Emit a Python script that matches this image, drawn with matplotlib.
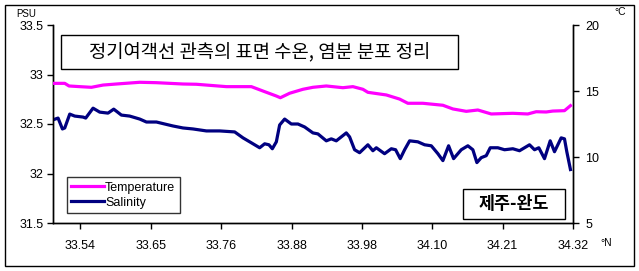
import matplotlib
matplotlib.use("Agg")
import matplotlib.pyplot as plt
from matplotlib.patches import Rectangle

plt.rcParams['font.family'] = ['Liberation Sans', 'Noto Sans CJK KR', 'DejaVu Sans']

# category tick labels (latitude, °N)
lat_labels = ["33.54", "33.65", "33.76", "33.88", "33.98", "34.10", "34.21", "34.32"]

# salinity series (x = position along category axis, value in PSU)
sal_x = [-0.398, -0.318, -0.256, -0.223, -0.152, -0.081, 0.037, 0.075, 0.179, 0.274,
         0.392, 0.473, 0.582, 0.700, 0.842, 0.938, 1.080, 1.197, 1.315, 1.457,
         1.599, 1.790, 1.979, 2.192, 2.310, 2.429, 2.547, 2.618, 2.679, 2.727,
         2.784, 2.831, 2.902, 2.997, 3.091, 3.186, 3.304, 3.375, 3.494, 3.565,
         3.636, 3.778, 3.825, 3.896, 3.967, 4.085, 4.156, 4.205, 4.322, 4.418,
         4.479, 4.545, 4.607, 4.678, 4.795, 4.891, 4.986, 5.080, 5.151, 5.232,
         5.303, 5.412, 5.506, 5.577, 5.634, 5.696, 5.767, 5.824, 5.932, 6.027,
         6.145, 6.240, 6.382, 6.453, 6.514, 6.595, 6.676, 6.737, 6.832, 6.879,
         6.912, 6.964]
salinity = [32.54, 32.56, 32.45, 32.46, 32.60, 32.58, 32.57, 32.56, 32.66, 32.62,
            32.61, 32.65, 32.59, 32.58, 32.55, 32.52, 32.52, 32.50, 32.48, 32.46,
            32.45, 32.43, 32.43, 32.42, 32.36, 32.31, 32.26, 32.30, 32.29, 32.25,
            32.32, 32.49, 32.55, 32.50, 32.50, 32.47, 32.41, 32.40, 32.33, 32.35,
            32.33, 32.41, 32.37, 32.24, 32.21, 32.29, 32.23, 32.26, 32.20, 32.25,
            32.24, 32.15, 32.24, 32.33, 32.32, 32.29, 32.28, 32.20, 32.13, 32.28,
            32.15, 32.24, 32.28, 32.24, 32.11, 32.16, 32.18, 32.26, 32.26, 32.24,
            32.25, 32.23, 32.29, 32.24, 32.26, 32.15, 32.33, 32.22, 32.36, 32.35,
            32.22, 32.04]

# temperature series (x = position along category axis, value in °C)
temp_x = [-0.398, -0.223, -0.162, -0.010, 0.156, 0.321, 0.511, 0.842, 1.080, 1.457,
          1.648, 2.074, 2.429, 2.618, 2.784, 2.841, 2.973, 3.162, 3.304, 3.494,
          3.730, 3.872, 4.014, 4.085, 4.347, 4.535, 4.653, 4.866, 5.151, 5.293,
          5.483, 5.648, 5.838, 6.145, 6.358, 6.477, 6.619, 6.713, 6.879, 6.964]
temperature = [15.58, 15.58, 15.38, 15.33, 15.28, 15.45, 15.53, 15.66, 15.63, 15.53,
               15.51, 15.33, 15.33, 14.95, 14.62, 14.49, 14.83, 15.13, 15.28, 15.38,
               15.25, 15.33, 15.13, 14.90, 14.70, 14.39, 14.07, 14.07, 13.92, 13.64,
               13.46, 13.56, 13.26, 13.31, 13.26, 13.43, 13.41, 13.48, 13.51, 13.89]

W, H = 639, 271
fig = plt.figure(figsize=(W / 100, H / 100), dpi=100)
fig.patch.set_facecolor('white')

def fx(px):
    return px / W

def fy(py):
    return 1 - py / H

ax = fig.add_axes([fx(53), fy(223), fx(573) - fx(53), fy(25) - fy(223)])
ax2 = ax.twinx()

l_sal, = ax.plot(sal_x, salinity, color='#000080', lw=2.3, solid_joinstyle='round', zorder=3)
l_tmp, = ax2.plot(temp_x, temperature, color='#FF00FF', lw=2.3, solid_joinstyle='round', zorder=3)

ax.set_xlim(-0.39, 7.0)
ax.set_ylim(31.5, 33.5)
ax2.set_ylim(5, 20)
ax.set_yticks([31.5, 32, 32.5, 33, 33.5])
ax.set_yticklabels(["31.5", "32", "32.5", "33", "33.5"])
ax2.set_yticks([5, 10, 15, 20])
ax.set_xticks(range(len(lat_labels)))
ax.set_xticklabels(lat_labels)

for a in (ax, ax2):
    a.spines['top'].set_visible(False)
    for s in ('left', 'right', 'bottom'):
        a.spines[s].set_linewidth(1.0)
        a.spines[s].set_color('black')
    a.tick_params(direction='out', length=4, width=1, labelsize=9, colors='black')
ax.tick_params(axis='x', pad=8)
ax.tick_params(axis='y', pad=3)
ax2.tick_params(axis='y', pad=5)

# axis unit labels
fig.text(fx(26), fy(14), "PSU", fontsize=7, ha='center', va='center')
fig.text(fx(620), fy(12), "°C", fontsize=7.5, ha='center', va='center')
fig.text(fx(606), fy(243), "°N", fontsize=7.5, ha='center', va='center')

# title box
fig.patches.append(Rectangle((fx(61), fy(69)), fx(458) - fx(61), fy(35) - fy(69),
                             transform=fig.transFigure, fill=True, fc='white',
                             ec='black', lw=1, zorder=5))
fig.text(fx(259.5), fy(52.5), "정기여객선 관측의 표면 수온, 염분 분포 정리", fontsize=13.5,
         ha='center', va='center', family=['Noto Sans CJK KR', 'DejaVu Sans'], zorder=6)

# route box
fig.patches.append(Rectangle((fx(463), fy(219)), fx(565) - fx(463), fy(189) - fy(219),
                             transform=fig.transFigure, fill=True, fc='white',
                             ec='black', lw=1, zorder=5))
fig.text(fx(514), fy(204), "제주-완도", fontsize=12.5, ha='center', va='center',
         fontweight='bold', family=['Noto Sans CJK KR', 'DejaVu Sans'], zorder=6)

# legend
leg = ax2.legend([l_tmp, l_sal], ["Temperature", "Salinity"], loc='lower left',
                 bbox_to_anchor=(fx(67), fy(213)), bbox_transform=fig.transFigure,
                 fontsize=9, frameon=True, fancybox=False, handlelength=2.6,
                 handletextpad=0.1, borderpad=0.35, labelspacing=0.25,
                 borderaxespad=0)
leg.get_frame().set_edgecolor('black')
leg.get_frame().set_linewidth(1)

# chart border
fig.patches.append(Rectangle((fx(5), fy(266)), fx(634) - fx(5), fy(5) - fy(266),
                             transform=fig.transFigure, fill=False, ec='black', lw=1))

fig.savefig("out.png", dpi=100)
